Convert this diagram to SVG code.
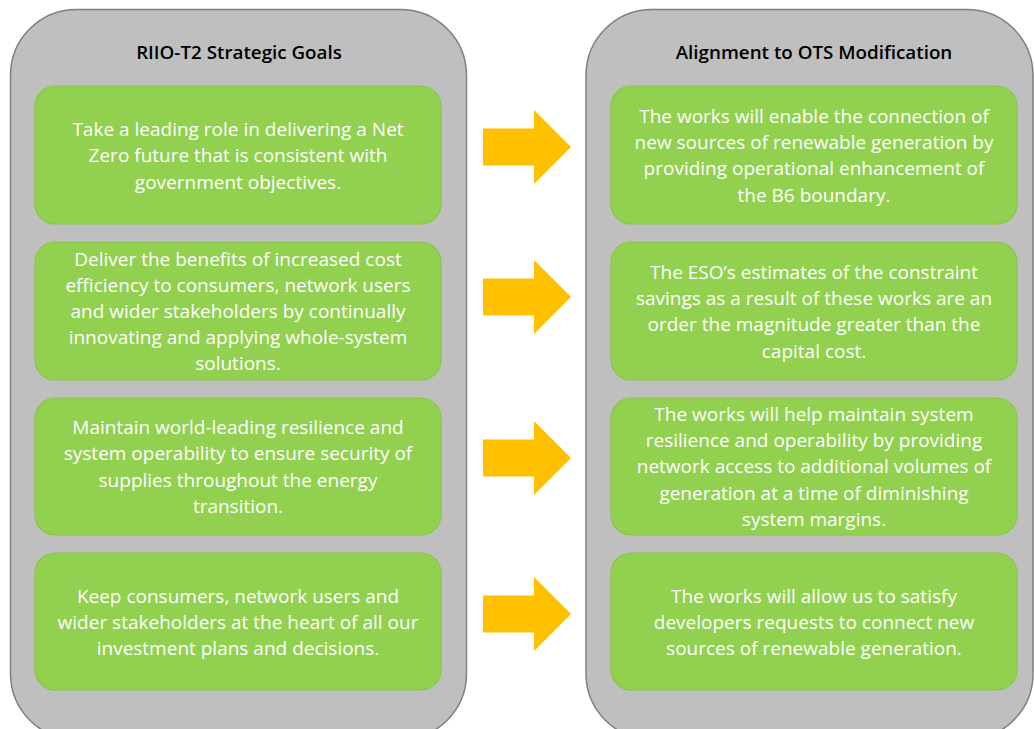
<svg xmlns="http://www.w3.org/2000/svg" width="1034" height="729" viewBox="0 0 1034 729">
  <style>
    .panel { fill: #BFBFBF; stroke: #7F7F7F; stroke-width: 1.5; }
    .box { fill: #92D050; stroke: #88C64A; stroke-width: 1.2; }
    .title { font-family: "Open Sans", "Liberation Sans", Arial, sans-serif; font-weight: 600; font-size: 18.8px; fill: #000; text-anchor: middle; }
    .body { font-family: "Open Sans", "Liberation Sans", Arial, sans-serif; font-size: 19px; fill: #FFFFFF; text-anchor: middle; }
    .arrow { fill: #FFC000; }
  </style>
  <defs>
    <path id="arrowShape" d="M0,-18.5 H51 V-37 L88,0 L51,37 V18.5 H0 Z"/>
  </defs>
  <rect width="1034" height="729" fill="#FFFFFF"/>

  <!-- Left column: strategic goals -->
  <g id="panel-goals">
    <rect class="panel" x="10.5" y="9.5" width="456" height="730" rx="66" ry="66"/>
    <text class="title" x="239" y="59">RIIO-T2 Strategic Goals</text>
  </g>

  <!-- Right column: alignment -->
  <g id="panel-alignment">
    <rect class="panel" x="586" y="9.5" width="447" height="730" rx="66" ry="66"/>
    <text class="title" x="814" y="59">Alignment to OTS Modification</text>
  </g>

  <g id="goal-1">
    <rect class="box" x="35" y="86" width="406" height="138" rx="20" ry="20"/>
    <text class="body" x="238" y="136">Take a leading role in delivering a Net</text>
    <text class="body" x="238" y="162">Zero future that is consistent with</text>
    <text class="body" x="238" y="189">government objectives.</text>
  </g>

  <g id="goal-2">
    <rect class="box" x="35" y="242" width="406" height="138" rx="20" ry="20"/>
    <text class="body" x="238" y="266">Deliver the benefits of increased cost</text>
    <text class="body" x="238" y="292">efficiency to consumers, network users</text>
    <text class="body" x="238" y="318">and wider stakeholders by continually</text>
    <text class="body" x="238" y="344">innovating and applying whole-system</text>
    <text class="body" x="238" y="370">solutions.</text>
  </g>

  <g id="goal-3">
    <rect class="box" x="35" y="398" width="406" height="137" rx="20" ry="20"/>
    <text class="body" x="238" y="434">Maintain world-leading resilience and</text>
    <text class="body" x="238" y="460">system operability to ensure security of</text>
    <text class="body" x="238" y="487">supplies throughout the energy</text>
    <text class="body" x="238" y="513">transition.</text>
  </g>

  <g id="goal-4">
    <rect class="box" x="35" y="553" width="406" height="137" rx="20" ry="20"/>
    <text class="body" x="238" y="603">Keep consumers, network users and</text>
    <text class="body" x="238" y="629">wider stakeholders at the heart of all our</text>
    <text class="body" x="238" y="655">investment plans and decisions.</text>
  </g>

  <g id="align-1">
    <rect class="box" x="611" y="86" width="406" height="138" rx="20" ry="20"/>
    <text class="body" x="814" y="123">The works will enable the connection of</text>
    <text class="body" x="814" y="149">new sources of renewable generation by</text>
    <text class="body" x="814" y="175">providing operational enhancement of</text>
    <text class="body" x="814" y="202">the B6 boundary.</text>
  </g>

  <g id="align-2">
    <rect class="box" x="611" y="242" width="406" height="138" rx="20" ry="20"/>
    <text class="body" x="814" y="279">The ESO’s estimates of the constraint</text>
    <text class="body" x="814" y="305">savings as a result of these works are an</text>
    <text class="body" x="814" y="331">order the magnitude greater than the</text>
    <text class="body" x="814" y="358">capital cost.</text>
  </g>

  <g id="align-3">
    <rect class="box" x="611" y="398" width="406" height="137" rx="20" ry="20"/>
    <text class="body" x="814" y="421">The works will help maintain system</text>
    <text class="body" x="814" y="447">resilience and operability by providing</text>
    <text class="body" x="814" y="473">network access to additional volumes of</text>
    <text class="body" x="814" y="500">generation at a time of diminishing</text>
    <text class="body" x="814" y="526">system margins.</text>
  </g>

  <g id="align-4">
    <rect class="box" x="611" y="553" width="406" height="137" rx="20" ry="20"/>
    <text class="body" x="814" y="603">The works will allow us to satisfy</text>
    <text class="body" x="814" y="629">developers requests to connect new</text>
    <text class="body" x="814" y="655">sources of renewable generation.</text>
  </g>

  <!-- Block arrows linking each goal to its alignment -->
  <g id="connectors">
    <use href="#arrowShape" class="arrow" x="483" y="147"/>
    <use href="#arrowShape" class="arrow" x="483" y="297"/>
    <use href="#arrowShape" class="arrow" x="483" y="458"/>
    <use href="#arrowShape" class="arrow" x="483" y="614"/>
  </g>
</svg>
